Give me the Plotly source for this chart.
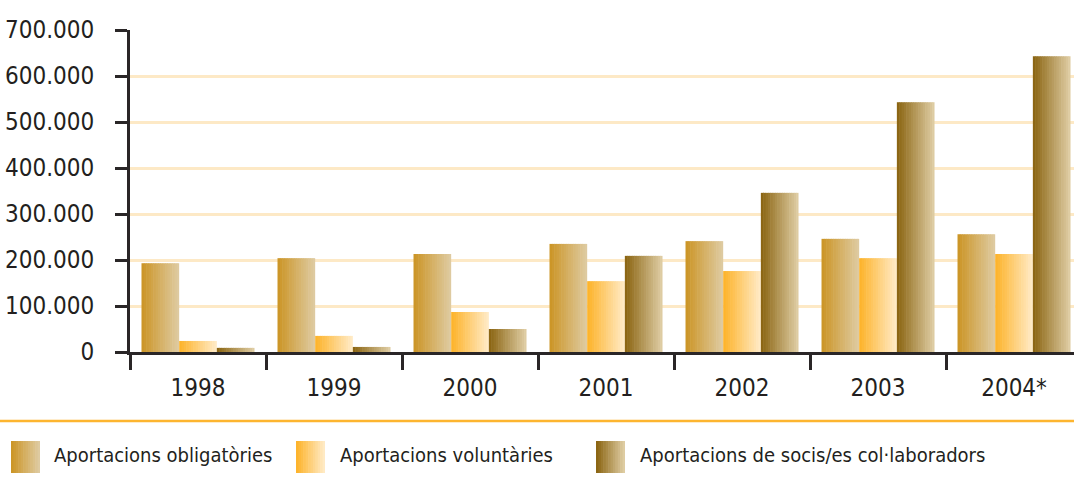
import plotly.graph_objects as go

# ---------------- data ----------------
years = ["1998", "1999", "2000", "2001", "2002", "2003", "2004*"]
obligatories = [193000, 204000, 213000, 235000, 241000, 246000, 256000]
voluntaries = [24000, 35000, 87000, 154000, 176000, 204000, 213000]
socis_collaboradors = [9000, 11000, 50000, 209000, 346000, 543000, 643000]
series_names = ["Aportacions obligatòries", "Aportacions voluntàries",
                "Aportacions de socis/es col·laboradors"]
y_ticks = [0, 100000, 200000, 300000, 400000, 500000, 600000, 700000]

# ---------------- style ----------------
W, H = 1074, 488
FONT = "Liberation Sans Narrow, DejaVu Sans Condensed, Arial Narrow, sans-serif"
TXT = "#231F20"
gradients = [
    ((204, 150, 40), (222, 202, 160)),
    ((253, 180, 45), (255, 234, 196)),
    ((140, 102, 20), (222, 204, 162)),
]
N_STRIPS = 16
BAR_W = 0.277          # width of each bar in category units
GROUP_START = -1.5 * BAR_W


def lerp(c1, c2, t):
    return "rgb(%d,%d,%d)" % tuple(round(a + (b - a) * t) for a, b in zip(c1, c2))


def px_x(p):
    return p / W


def px_y(p):
    return 1 - p / H


fig = go.Figure()
all_series = [obligatories, voluntaries, socis_collaboradors]
step = BAR_W / N_STRIPS
for s, (vals, (c1, c2)) in enumerate(zip(all_series, gradients)):
    for k in range(N_STRIPS):
        t = k / (N_STRIPS - 1)
        w = step * (1.25 if k < N_STRIPS - 1 else 1.0)
        fig.add_trace(go.Bar(
            x=years, y=vals,
            width=w,
            offset=GROUP_START + s * BAR_W + k * step,
            marker=dict(color=lerp(c1, c2, t), line=dict(width=0)),
            name=series_names[s],
            showlegend=False,
            hoverinfo="skip" if k else "x+y+name",
        ))

fig.update_layout(
    width=W, height=H,
    margin=dict(l=0, r=0, t=0, b=0),
    paper_bgcolor="white", plot_bgcolor="white",
    barmode="overlay",
    separators=",.",
    showlegend=False,
    font=dict(family=FONT, color=TXT),
    xaxis=dict(
        domain=[px_x(130), 1],
        type="category",
        range=[-0.5, 6.441],
        showline=True, linecolor="#2a2627", linewidth=3,
        ticks="outside", tickson="boundaries", ticklen=15, tickwidth=2.5,
        tickcolor="#2a2627",
        ticklabelstandoff=12,
        tickfont=dict(size=24, family=FONT, color=TXT),
        showgrid=False, zeroline=False, automargin=False,
    ),
    yaxis=dict(
        domain=[px_y(352), px_y(30)],
        range=[0, 700000],
        tickvals=y_ticks,
        tickformat=",d",
        showline=True, linecolor="#2a2627", linewidth=3,
        ticks="outside", ticklen=12, tickwidth=2.5, tickcolor="#2a2627",
        ticklabelstandoff=16,
        tickfont=dict(size=24, family=FONT, color=TXT),
        showgrid=True, gridcolor="#FDE9C6", gridwidth=2.5,
        zeroline=False, automargin=False,
    ),
)

# separator line above legend
fig.add_shape(type="line", xref="paper", yref="paper",
              x0=0, x1=1, y0=px_y(421), y1=px_y(421),
              line=dict(color="#FDB52F", width=2.5))

# custom legend with gradient swatches
legend_sw_x = [11, 296, 596]
legend_txt_x = [52, 338, 638]
SW_W, SW_TOP, SW_BOT = 29, 441, 473
for i, name in enumerate(series_names):
    c1, c2 = gradients[i]
    n = 12
    for k in range(n):
        x0 = legend_sw_x[i] + SW_W * k / n
        x1 = legend_sw_x[i] + SW_W * (k + 1) / n + (0.6 if k < n - 1 else 0)
        fig.add_shape(type="rect", xref="paper", yref="paper",
                      x0=px_x(x0), x1=px_x(x1), y0=px_y(SW_BOT), y1=px_y(SW_TOP),
                      line=dict(width=0), fillcolor=lerp(c1, c2, k / (n - 1)),
                      layer="above")
    fig.add_annotation(xref="paper", yref="paper",
                       x=px_x(legend_txt_x[i]), y=px_y(455),
                       xanchor="left", yanchor="middle",
                       text=name, showarrow=False,
                       font=dict(size=20, family=FONT, color=TXT))

fig.write_html("out.html",
               config={"displayModeBar": False},
               post_script="document.body.style.margin='0';document.body.style.padding='0';")
